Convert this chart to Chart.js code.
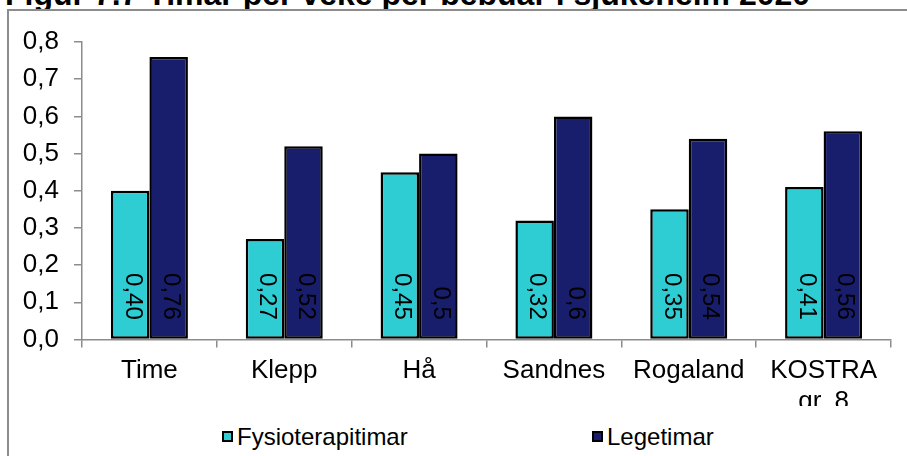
<!DOCTYPE html>
<html>
<head>
<meta charset="utf-8">
<script src="https://cdn.jsdelivr.net/npm/chart.js@4.4.0/dist/chart.umd.min.js"></script>
<style>
  body { margin: 0; width: 907px; height: 456px; overflow: hidden; background: #fff; position: relative;
         font-family: "Liberation Sans", Arial, sans-serif; }
  #tittel { position: absolute; left: 5px; top: -22px; font-weight: bold; font-size: 32px; line-height: 32px; white-space: nowrap; color: #000; }
  #ramme { position: absolute; left: 7px; top: 9px; width: 920px; height: 460px; border-top: 2px solid #8c8c8c; border-left: 2px solid #8c8c8c; background: #fff; }
  #wrap { position: absolute; left: 0; top: 0; width: 907px; height: 456px; }
  #forklaring { position: absolute; left: 9px; top: 406px; width: 898px; height: 50px; background: #fff; }
  .post { position: absolute; top: 0; height: 50px; }
  .boks { position: absolute; top: 25px; width: 11px; height: 11px; box-sizing: border-box; border: 2px solid #000; }
  .tekst { position: absolute; left: 15px; top: 17px; font-size: 24px; line-height: 28px; white-space: nowrap; color: #000; }
</style>
</head>
<body>
<div id="tittel">Figur 7.7 Timar per veke per bebuar i sjukeheim 2020</div>
<div id="ramme"></div>
<div id="wrap"><canvas id="graf" width="907" height="456"></canvas></div>
<div id="forklaring"></div>
<script>
const kategoriar = ['Time', 'Klepp', 'Hå', 'Sandnes', 'Rogaland', ['KOSTRA', 'gr. 8']];
const fysioterapitimar = [0.40, 0.27, 0.45, 0.32, 0.35, 0.41];
const legetimar = [0.76, 0.52, 0.5, 0.6, 0.54, 0.56];
const seriar = ['Fysioterapitimar', 'Legetimar'];
const fargar = ['#2dcdd3', '#181e6c'];
// talet på desimalar i verdietikettane (null = slik talet er)
const desimalar = [2, null];
const yMin = 0, yMax = 0.8, ySteg = 0.1;

const komma = s => s.replace('.', ',');

// verdiane skrivne loddrett inne i søylene, nedst ved grunnlinja
const verdiEtikettar = {
  id: 'verdiEtikettar',
  afterDatasetsDraw(chart) {
    const ctx = chart.ctx;
    ctx.save();
    ctx.font = '24px "Liberation Sans", Arial, sans-serif';
    ctx.fillStyle = '#000';
    ctx.textAlign = 'right';
    ctx.textBaseline = 'middle';
    chart.data.datasets.forEach((ds, i) => {
      chart.getDatasetMeta(i).data.forEach((bar, j) => {
        const v = ds.data[j];
        const tekst = komma(desimalar[i] == null ? String(v) : v.toFixed(desimalar[i]));
        ctx.save();
        ctx.translate(bar.x + 2, bar.base - 19);
        ctx.rotate(Math.PI / 2);
        ctx.fillText(tekst, 0, 0);
        ctx.restore();
      });
    });
    ctx.restore();
  }
};

const chart = new Chart(document.getElementById('graf'), {
  type: 'bar',
  data: {
    labels: kategoriar,
    datasets: seriar.map((namn, i) => ({
      label: namn,
      data: i === 0 ? fysioterapitimar : legetimar,
      backgroundColor: fargar[i],
      borderColor: '#000',
      borderWidth: 2.5,
      borderSkipped: false,
      barPercentage: 1,
      categoryPercentage: 0.571
    }))
  },
  options: {
    responsive: false,
    animation: false,
    layout: { padding: { top: 42, right: 16, left: 0, bottom: 0 } },
    plugins: { legend: { display: false }, tooltip: { enabled: false } },
    scales: {
      x: {
        grid: { drawOnChartArea: false, tickLength: 8, color: '#8c8c8c', lineWidth: 1.5 },
        border: { color: '#8c8c8c', width: 1.5 },
        ticks: { color: '#000', padding: 8, maxRotation: 0, autoSkip: false,
                 font: { family: '"Liberation Sans", Arial, sans-serif', size: 26 } },
        afterFit: s => { s.height = 116.5; }
      },
      y: {
        min: yMin, max: yMax,
        grid: { drawOnChartArea: false, tickLength: 8, color: '#8c8c8c', lineWidth: 1.5 },
        border: { color: '#8c8c8c', width: 1.5 },
        ticks: { stepSize: ySteg, color: '#000', padding: 15,
                 font: { family: '"Liberation Sans", Arial, sans-serif', size: 26 },
                 callback: v => komma(v.toFixed(1)) },
        afterFit: s => { s.width = 82; }
      }
    }
  },
  plugins: [verdiEtikettar]
});

// forklaring under grafen
const postX = [222, 592];
const forklaring = document.getElementById('forklaring');
seriar.forEach((namn, i) => {
  const post = document.createElement('div');
  post.className = 'post';
  post.style.left = (postX[i] - 9) + 'px';
  post.innerHTML = '<div class="boks" style="background:' + fargar[i] + '"></div><div class="tekst">' + namn + '</div>';
  forklaring.appendChild(post);
});
</script>
</body>
</html>
